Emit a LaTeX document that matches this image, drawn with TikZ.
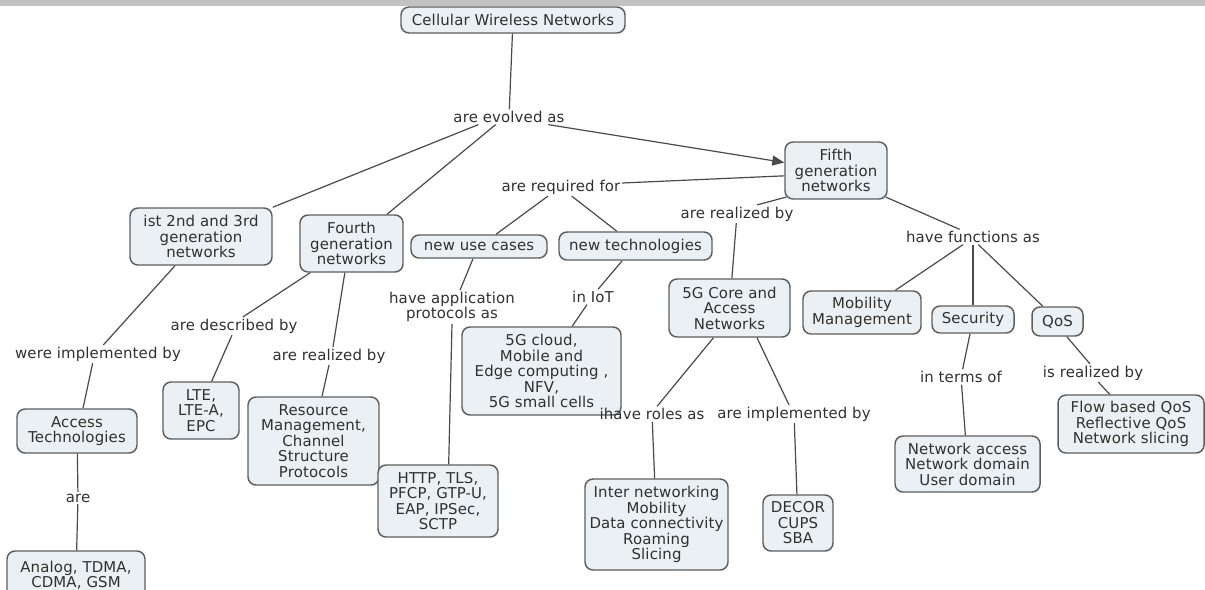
\documentclass[tikz,border=0pt]{standalone}
\usepackage{fontspec}
\setmainfont{DejaVu Sans}[LetterSpace=1]
\usetikzlibrary{arrows.meta}
\definecolor{boxfill}{HTML}{EAF0F3}
\definecolor{boxline}{HTML}{5E5E5E}
\definecolor{inkgray}{HTML}{303030}
\definecolor{wire}{HTML}{4A4A4A}
\definecolor{band}{HTML}{C2C2C2}
\tikzset{
  concept/.style={draw=boxline, line width=1.1pt, fill=boxfill, rounded corners=6pt,
    align=center, inner sep=1pt, text=inkgray,
    font=\fontsize{11.2}{11.6}\selectfont},
  linkword/.style={align=center, inner sep=1.2pt, text=inkgray,
    font=\fontsize{11.2}{11.6}\selectfont},
  wireline/.style={draw=wire, line width=0.9pt},
  wirearrow/.style={wireline, -{Triangle[length=9pt,width=7.5pt]}}
}
\begin{document}
\begin{tikzpicture}[x=0.75pt,y=-0.75pt]
\useasboundingbox (0,0) rectangle (1205,589);
\clip (0,0) rectangle (1205,589);
\fill[band] (0,0) rectangle (1205,6);

% concepts
\node[concept, minimum width=168pt, minimum height=19.5pt] (cwn) at (513,20) {Cellular Wireless Networks};
\node[concept, minimum width=76.5pt, minimum height=42.75pt] (fifth) at (836,170.5) {Fifth\\generation\\networks};
\node[concept, minimum width=106.5pt, minimum height=42.75pt] (ist) at (201,236.5) {ist 2nd and 3rd\\generation\\networks};
\node[concept, minimum width=77.25pt, minimum height=42.75pt] (fourth) at (351.5,243.5) {Fourth\\generation\\networks};
\node[concept, minimum width=102pt, minimum height=17.25pt] (usecases) at (479,246.5) {new use cases};
\node[concept, minimum width=114.75pt, minimum height=21pt] (newtech) at (635.5,246) {new technologies};
\node[concept, minimum width=90.75pt, minimum height=43.5pt] (core) at (729.5,308) {5G Core and\\Access\\Networks};
\node[concept, minimum width=88.5pt, minimum height=32.25pt] (mobility) at (862,312.5) {Mobility\\Management};
\node[concept, minimum width=61.5pt, minimum height=20.25pt] (security) at (973,319.5) {Security};
\node[concept, minimum width=38.25pt, minimum height=21.75pt] (qos) at (1057.5,321.5) {QoS};
\node[concept, minimum width=119.25pt, minimum height=66pt] (cloud) at (541.5,371) {5G cloud,\\Mobile and\\Edge computing ,\\NFV,\\5G small cells};
\node[concept, minimum width=57pt, minimum height=42.75pt] (lte) at (201,410.5) {LTE,\\LTE-A,\\EPC};
\node[concept, minimum width=98.25pt, minimum height=66pt] (resource) at (313.5,441) {Resource\\Management,\\Channel\\Structure\\Protocols};
\node[concept, minimum width=90pt, minimum height=33pt] (access) at (77,431) {Access\\Technologies};
\node[concept, minimum width=103.5pt, minimum height=36pt] (analog) at (76,575) {Analog, TDMA,\\CDMA, GSM};
\node[concept, minimum width=90pt, minimum height=54pt] (http) at (438,501) {HTTP, TLS,\\PFCP, GTP-U,\\EAP, IPSec,\\SCTP};
\node[concept, minimum width=107.25pt, minimum height=68.25pt] (inter) at (656.5,524.5) {Inter networking\\Mobility\\Data connectivity\\Roaming\\Slicing};
\node[concept, minimum width=52.5pt, minimum height=42pt] (decor) at (798,523) {DECOR\\CUPS\\SBA};
\node[concept, minimum width=108.75pt, minimum height=42pt] (netacc) at (967.5,464) {Network access\\Network domain\\User domain};
\node[concept, minimum width=109.5pt, minimum height=43.5pt] (flow) at (1131,424) {Flow based QoS\\Reflective QoS\\Network slicing};

% linking phrases
\node[linkword] (evolved) at (509,117) {are evolved as};
\node[linkword] (required) at (561,187) {are required for};
\node[linkword] (realized5) at (737,214) {are realized by};
\node[linkword] (functions) at (973,237) {have functions as};
\node[linkword] (appproto) at (452,307) {have application\\protocols as};
\node[linkword] (iot) at (593,297) {in IoT};
\node[linkword] (wereimpl) at (98,354) {were implemented by};
\node[linkword] (described) at (234,326) {are described by};
\node[linkword] (realized4) at (329,356) {are realized by};
\node[linkword] (are) at (78,498) {are};
\node[linkword] (roles) at (652,414) {ihave roles as};
\node[linkword] (implby) at (794,414) {are implemented by};
\node[linkword] (terms) at (961,377) {in terms of};
\node[linkword] (isreal) at (1093,373) {is realized by};

% connectors
\draw[wireline] (cwn) -- (evolved);
\draw[wirearrow] ([xshift=-13.5pt]evolved.south east) -- ([yshift=6pt]fifth.west);
\draw[wireline] ([xshift=20pt]evolved.south west) -- (ist.north east);
\draw[wireline] ([xshift=33pt]evolved.south west) -- ([xshift=26.6pt]fourth.north);
\draw[wireline] ([yshift=-4pt]fifth.west) -- ([yshift=3pt]required.east);
\draw[wireline] ([xshift=-9.75pt]required.south) -- ([xshift=12.75pt]usecases.north);
\draw[wireline] ([xshift=8pt]required.south) -- ([xshift=-14pt]newtech.north);
\draw[wireline] ([xshift=1.5pt,yshift=2pt]fifth.south west) -- ([xshift=15pt]realized5.north);
\draw[wireline] (realized5) -- (core);
\draw[wireline] ([xshift=-1.5pt,yshift=2pt]fifth.south east) -- ([xshift=-10pt]functions.north);
\draw[wireline] ([xshift=-7.5pt]functions.south) -- ([xshift=25pt]mobility.north);
\draw[wireline] (functions.south) -- (security.north);
\draw[wireline] ([xshift=4pt]functions.south) -- ([xshift=-11pt]qos.north);
\draw[wireline] ([xshift=-19.5pt]ist.south) -- ([xshift=4pt]wereimpl.north);
\draw[wireline] ([xshift=-4pt]wereimpl.south) -- ([xshift=4.5pt]access.north);
\draw[wireline] (access) -- (are);
\draw[wireline] (are) -- (analog);
\draw[wireline] ([xshift=-31pt]fourth.south) -- ([xshift=6.75pt]described.north);
\draw[wireline] ([xshift=-1.5pt]described.south) -- ([xshift=8pt]lte.north);
\draw[wireline] ([xshift=-5pt]fourth.south) -- ([xshift=3pt]realized4.north);
\draw[wireline] (realized4.south) -- ([xshift=6.4pt]resource.north);
\draw[wireline] ([xshift=-4.5pt]usecases.south) -- ([xshift=6pt]appproto.north);
\draw[wireline] (appproto.south) -- ([xshift=8pt]http.north);
\draw[wireline] ([xshift=-10pt]newtech.south) -- ([xshift=3.75pt]iot.north);
\draw[wireline] ([xshift=-4.5pt]iot.south) -- ([xshift=23pt]cloud.north);
\draw[wireline] ([xshift=-12pt]core.south) -- ([xshift=3.75pt]roles.north);
\draw[wireline] ([xshift=20.6pt]core.south) -- ([xshift=-3.75pt]implby.north);
\draw[wireline] (roles) -- (inter);
\draw[wireline] (implby) -- (decor);
\draw[wireline] (security) -- (terms);
\draw[wireline] (terms) -- (netacc);
\draw[wireline] ([xshift=7pt]qos.south) -- ([xshift=-2.25pt]isreal.north);
\draw[wireline] ([xshift=4pt]isreal.south) -- ([xshift=-16pt]flow.north);
\end{tikzpicture}
\end{document}
